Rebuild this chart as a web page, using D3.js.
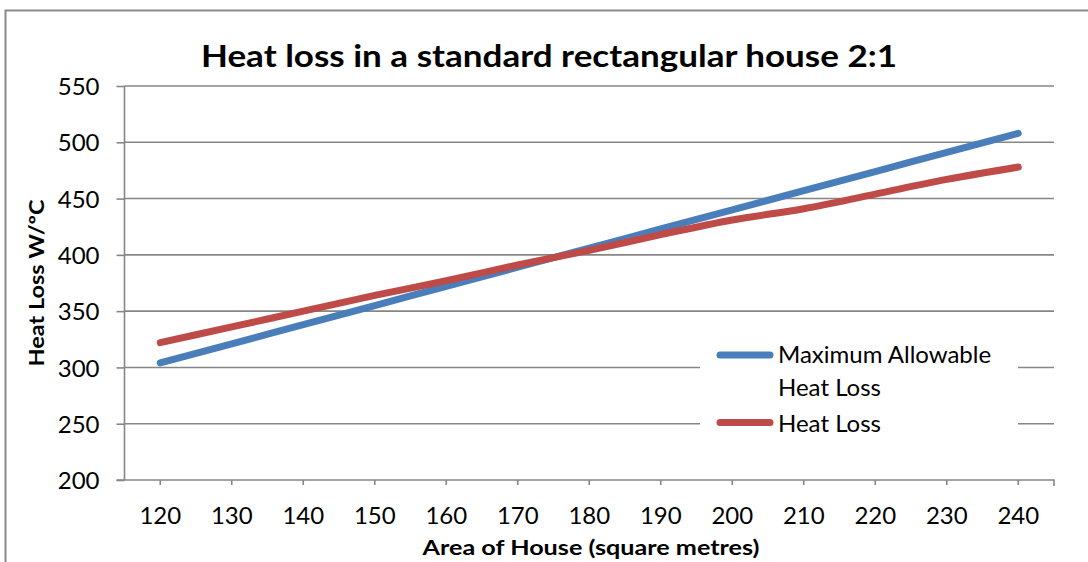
<!DOCTYPE html>
<html>
<head>
<meta charset="utf-8">
<script src="https://cdn.jsdelivr.net/npm/d3@7"></script>
<style>
  html, body { margin: 0; padding: 0; background: #fff; }
  svg { display: block; }
  text { font-family: Lato, "Open Sans", sans-serif; fill: #000; }
</style>
</head>
<body>
<svg id="chart" width="1088" height="562"></svg>
<script>
// ---- data ----
const categories = [120, 130, 140, 150, 160, 170, 180, 190, 200, 210, 220, 230, 240];
const maxAllowable = [304, 321, 338, 355, 372, 389, 406, 423, 440, 457, 474, 491, 508];
const heatLoss = [322, 336, 350, 364, 377, 391, 404, 418, 431, 441, 454, 467, 478];
const yTicks = [200, 250, 300, 350, 400, 450, 500, 550];
const seriesNames = ["Maximum Allowable Heat Loss", "Heat Loss"];
const seriesColors = ["#4A7EBB", "#BE4B48"];
const titleText = "Heat loss in a standard rectangular house 2:1";
const xTitle = "Area of House (square metres)";
const yTitle = "Heat Loss W/ºC";

(function () {
// ---- layout ----
const svg = d3.select("#chart");
const pL = 124.5, pR = 1054, pT = 86, pB = 480;
const gridColor = "#868686";
const tickFont = 24;

// outer frame (top and left edges visible)
svg.append("path")
  .attr("d", "M5.5,562 L5.5,10.5 L1088,10.5")
  .attr("fill", "none").attr("stroke", "#8a8a8a").attr("stroke-width", 2);

const x = d3.scaleBand().domain(categories).range([pL, pR]).paddingInner(0).paddingOuter(0);
const xc = d => x(d) + x.bandwidth() / 2;
const y = d3.scaleLinear().domain([200, 550]).range([pB, pT]);

// gridlines
svg.append("g").selectAll("line").data(yTicks.filter(d => d !== 200)).join("line")
  .attr("x1", pL).attr("x2", pR)
  .attr("y1", d => y(d)).attr("y2", d => y(d))
  .attr("stroke", gridColor).attr("stroke-width", 1.6);

// y axis
const yAxis = d3.axisLeft(y).tickValues(yTicks).tickSize(8).tickPadding(17).tickFormat(d3.format("d"));
const gy = svg.append("g").attr("transform", `translate(${pL},0)`).call(yAxis);
gy.select(".domain").attr("stroke", gridColor).attr("stroke-width", 1.6).attr("d", `M0,${pT}V${pB}`);
gy.selectAll(".tick line").attr("stroke", gridColor).attr("stroke-width", 1.6);
gy.selectAll(".tick text").attr("font-size", tickFont).attr("font-family", "Lato, sans-serif").attr("fill", "#000").attr("dy", "0.36em");

// x axis
const xAxis = d3.axisBottom(x).tickSize(5).tickPadding(0).tickFormat(d => d);
const gx = svg.append("g").attr("transform", `translate(0,${pB})`).call(xAxis);
gx.select(".domain").attr("stroke", gridColor).attr("stroke-width", 1.6).attr("d", `M${pL - 8},0H${pR}V6`);
gx.selectAll(".tick line").attr("stroke", gridColor).attr("stroke-width", 1.6);
gx.selectAll(".tick text").attr("font-size", tickFont).attr("font-family", "Lato, sans-serif").attr("fill", "#000")
  .attr("y", 44).attr("dy", 0);

// lines
const lineGen = d3.line().x((d, i) => xc(categories[i])).y(d => y(d)).curve(d3.curveMonotoneX);
[maxAllowable, heatLoss].forEach((s, i) => {
  svg.append("path").datum(s)
    .attr("d", lineGen)
    .attr("fill", "none")
    .attr("stroke", seriesColors[i])
    .attr("stroke-width", 7)
    .attr("stroke-linecap", "round")
    .attr("stroke-linejoin", "round");
});

// legend
const lg = svg.append("g");
lg.append("rect").attr("x", 700).attr("y", 336).attr("width", 318).attr("height", 108).attr("fill", "#fff");
const legendRows = [
  { lineY: 355, lines: ["Maximum Allowable", "Heat Loss"], baselines: [363, 396] },
  { lineY: 422.5, lines: ["Heat Loss"], baselines: [432] }
];
legendRows.forEach((r, i) => {
  lg.append("line").attr("x1", 720).attr("x2", 770).attr("y1", r.lineY).attr("y2", r.lineY)
    .attr("stroke", seriesColors[i]).attr("stroke-width", 7).attr("stroke-linecap", "round");
  r.lines.forEach((t, j) => {
    lg.append("text").attr("x", 778).attr("y", r.baselines[j]).attr("font-size", tickFont).text(t);
  });
});

// titles
svg.append("text").attr("x", 549).attr("y", 67).attr("text-anchor", "middle")
  .attr("font-size", 31).attr("font-weight", "bold")
  .attr("textLength", 696).attr("lengthAdjust", "spacingAndGlyphs").text(titleText);

svg.append("text").attr("x", 591).attr("y", 555).attr("text-anchor", "middle")
  .attr("font-size", 20).attr("font-weight", "bold")
  .attr("textLength", 337).attr("lengthAdjust", "spacingAndGlyphs").text(xTitle);

svg.append("text").attr("transform", "translate(44,283) rotate(-90)").attr("text-anchor", "middle")
  .attr("font-size", 20).attr("font-weight", "bold")
  .attr("textLength", 167).attr("lengthAdjust", "spacingAndGlyphs").text(yTitle);
})();
</script>
</body>
</html>
